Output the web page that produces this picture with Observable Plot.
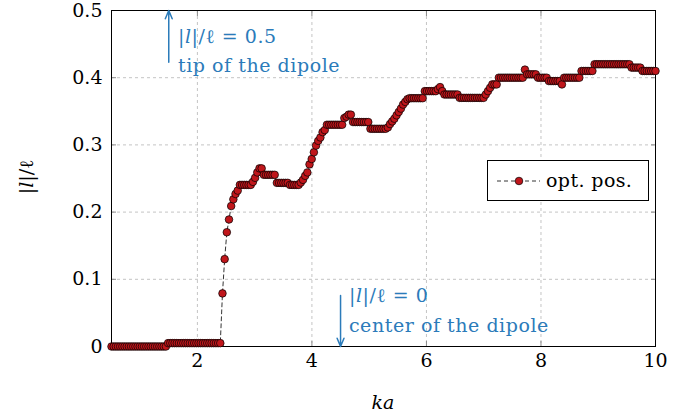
<!DOCTYPE html>
<html><head><meta charset="utf-8">
<script src="https://cdn.jsdelivr.net/npm/d3@7"></script>
<script src="https://cdn.jsdelivr.net/npm/@observablehq/plot@0.6"></script>
<style>html,body{margin:0;padding:0;background:#fff} svg{display:block}</style>
</head><body><div id="chart"></div>
<script>
// sampling grid of ka
const xStart = 0.5;
const xStep = 0.038;
// optimal position |l|/ℓ, as runs [count, value]
const runs = [
  [26, 0], [25, 0.005],
  [1, 0.079], [1, 0.13], [1, 0.17], [1, 0.189], [1, 0.209], [1, 0.219], [1, 0.227], [1, 0.232],
  [6, 0.2405],
  [1, 0.245], [1, 0.251], [1, 0.259], [1, 0.265], [1, 0.265],
  [6, 0.2555], [6, 0.2435], [5, 0.2405],
  [1, 0.244], [1, 0.248], [1, 0.254], [1, 0.259], [1, 0.271], [1, 0.279], [1, 0.289], [1, 0.299],
  [1, 0.306], [1, 0.311], [1, 0.319], [1, 0.322],
  [8, 0.33],
  [1, 0.34], [1, 0.342], [1, 0.345], [1, 0.345],
  [8, 0.334], [8, 0.324],
  [1, 0.326], [1, 0.331], [1, 0.335], [1, 0.339], [1, 0.344], [1, 0.349], [1, 0.354], [1, 0.36],
  [1, 0.364], [1, 0.368],
  [7, 0.3695], [6, 0.38],
  [1, 0.383], [1, 0.386], [1, 0.38],
  [7, 0.375], [12, 0.37],
  [1, 0.375], [1, 0.38], [1, 0.385],
  [3, 0.39], [12, 0.4],
  [1, 0.412],
  [5, 0.405], [5, 0.4], [6, 0.395],
  [1, 0.39],
  [8, 0.4], [6, 0.41], [17, 0.42], [5, 0.415], [7, 0.41]
];
const xTicks = [2, 4, 6, 8, 10];
const yTicks = [0, 0.1, 0.2, 0.3, 0.4, 0.5];
const seriesName = "opt. pos.";
const arrows = [
  {x1: 1.5, y1: 0.423, x2: 1.5, y2: 0.5},
  {x1: 4.5, y1: 0.076, x2: 4.5, y2: 0.0}
];
const notes = [
  {x: 1.67, y: 0.4509, parts: [["|", 0], ["l", 1], ["|/", 0], ["ℓ", 0], [" = 0.5", 0]]},
  {x: 1.67, y: 0.4077, parts: [["tip of the dipole", 0]]},
  {x: 4.655, y: 0.065, parts: [["|", 0], ["l", 1], ["|/", 0], ["ℓ", 0], [" = 0", 0]]},
  {x: 4.655, y: 0.0213, parts: [["center of the dipole", 0]]}
];

const data = [];
let idx = 0;
for (const [n, v] of runs) {
  for (let k = 0; k < n; k++) { data.push({x: xStart + idx * xStep, y: v}); idx++; }
}

const FONT = "'DejaVu Serif', 'Liberation Serif', serif";
const BLUE = "#2b7bba";
const RED = "#c0161b";

const chart = Plot.plot({
  width: 694, height: 416,
  marginLeft: 111, marginRight: 39, marginTop: 10, marginBottom: 70,
  x: {domain: [0.5, 10]},
  y: {domain: [0, 0.5]},
  style: {fontFamily: FONT, fontSize: "19px", background: "white", color: "black", overflow: "visible"},
  marks: [
    Plot.gridX(xTicks.slice(0, -1), {stroke: "#c4c4c4", strokeOpacity: 1, strokeDasharray: "3,3"}),
    Plot.gridY(yTicks.slice(1, -1), {stroke: "#c4c4c4", strokeOpacity: 1, strokeDasharray: "3,3"}),
    Plot.axisX(xTicks, {anchor: "bottom", tickSize: 0, tickPadding: 7, label: null, fontSize: 19}),
    Plot.axisY(yTicks, {anchor: "left", tickSize: 0, tickPadding: 9, label: null, fontSize: 19,
      tickFormat: d => d === 0 ? "0" : String(d)}),
    Plot.axisX(xTicks, {anchor: "bottom", tickSize: -5, stroke: "#8a8a8a", tickFormat: () => "", label: null}),
    Plot.axisX(xTicks, {anchor: "top", tickSize: -5, stroke: "#8a8a8a", tickFormat: () => "", label: null}),
    Plot.axisY(yTicks, {anchor: "left", tickSize: -5, stroke: "#8a8a8a", tickFormat: () => "", label: null}),
    Plot.axisY(yTicks, {anchor: "right", tickSize: -5, stroke: "#8a8a8a", tickFormat: () => "", label: null}),
    Plot.frame({stroke: "black", strokeWidth: 1}),
    Plot.arrow(arrows, {x1: "x1", y1: "y1", x2: "x2", y2: "y2", stroke: BLUE, strokeWidth: 1.5, headLength: 9, headAngle: 45}),
    Plot.line(data, {x: "x", y: "y", stroke: "black", strokeWidth: 0.8, strokeDasharray: "4,3"}),
    Plot.dot(data, {x: "x", y: "y", r: 3.8, fill: RED, stroke: "black", strokeWidth: 0.7})
  ]
});

const svg = d3.select(chart);
const sx = chart.scale("x"), sy = chart.scale("y");

function mathText(sel, parts) {
  for (const [t, it] of parts) {
    sel.append("tspan").attr("font-style", it ? "italic" : "normal").text(t);
  }
}

for (const n of notes) {
  const t = svg.append("text")
    .attr("x", sx.apply(n.x)).attr("y", sy.apply(n.y))
    .attr("fill", BLUE).attr("font-family", FONT).attr("font-size", 19)
    .attr("letter-spacing", "0.55px")
    .attr("text-anchor", "start");
  mathText(t, n.parts);
}

// axis labels
const yl = svg.append("text")
  .attr("transform", "translate(33,177) rotate(-90)")
  .attr("text-anchor", "middle").attr("font-family", FONT).attr("font-size", 19);
mathText(yl, [["|", 0], ["l", 1], ["|/", 0], ["ℓ", 0]]);
svg.append("text").attr("x", 383).attr("y", 409).attr("text-anchor", "middle")
  .attr("font-family", FONT).attr("font-size", 19).attr("font-style", "italic").text("ka");

// legend
const lg = svg.append("g");
lg.append("rect").attr("x", 487.5).attr("y", 160.5).attr("width", 161).attr("height", 40)
  .attr("fill", "white").attr("stroke", "black").attr("stroke-width", 1);
lg.append("line").attr("x1", 497).attr("x2", 540).attr("y1", 181).attr("y2", 181)
  .attr("stroke", "black").attr("stroke-width", 0.8).attr("stroke-dasharray", "4,3");
lg.append("circle").attr("cx", 519).attr("cy", 181).attr("r", 3.8)
  .attr("fill", RED).attr("stroke", "black").attr("stroke-width", 0.7);
lg.append("text").attr("x", 546).attr("y", 187).attr("text-anchor", "start")
  .attr("font-family", FONT).attr("font-size", 19).attr("letter-spacing", "0.4px").text(seriesName);

document.getElementById("chart").appendChild(chart);
</script>
</body></html>
